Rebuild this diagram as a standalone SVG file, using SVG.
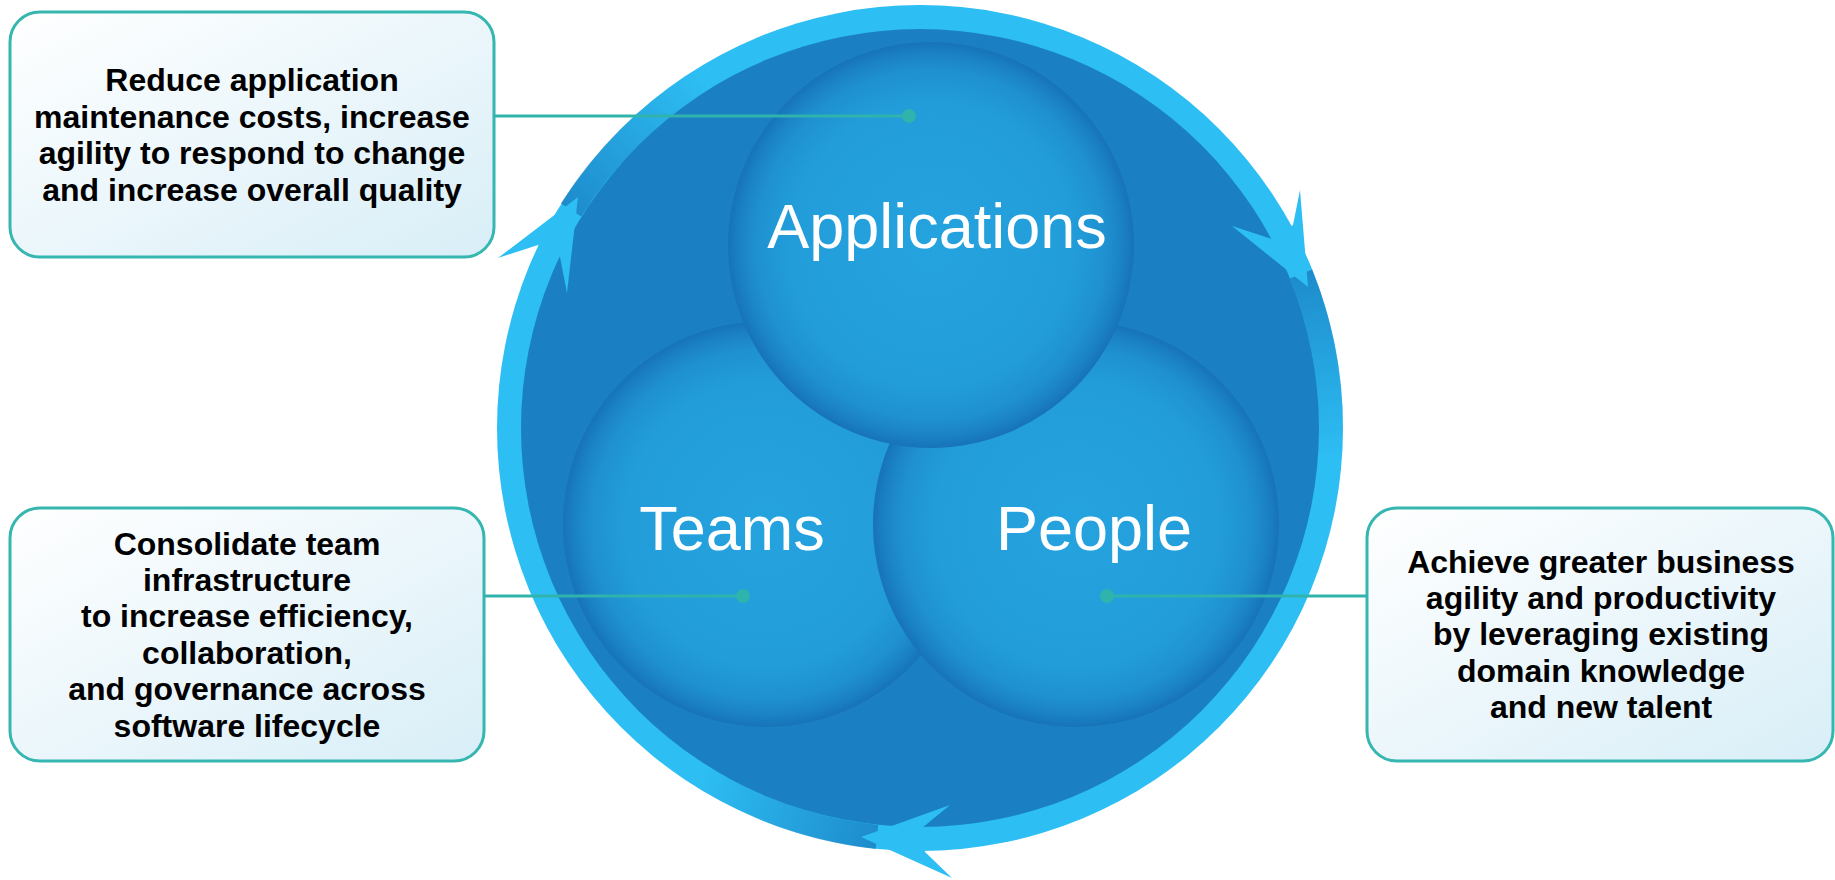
<svg xmlns="http://www.w3.org/2000/svg" width="1835" height="880" viewBox="0 0 1835 880">
<defs>
<linearGradient id="boxFill" x1="0" y1="0" x2="1" y2="1">
<stop offset="0" stop-color="#FFFFFF"/>
<stop offset="1" stop-color="#D8EEF7"/>
</linearGradient>
<radialGradient id="ball" cx="50%" cy="50%" r="50%">
<stop offset="0" stop-color="#25A3DF"/>
<stop offset="0.7" stop-color="#229DDA"/>
<stop offset="0.86" stop-color="#1F91D0"/>
<stop offset="0.95" stop-color="#1A80C4"/>
<stop offset="1" stop-color="#1773B8"/>
</radialGradient>
<linearGradient id="tailUL" gradientUnits="userSpaceOnUse" x1="571" y1="210" x2="702" y2="80">
<stop offset="0" stop-color="#1A7FC2" stop-opacity="0.8"/>
<stop offset="1" stop-color="#1A7FC2" stop-opacity="0"/>
</linearGradient>
<linearGradient id="tailUR" gradientUnits="userSpaceOnUse" x1="1301" y1="274" x2="1330" y2="457">
<stop offset="0" stop-color="#1A7FC2" stop-opacity="0.8"/>
<stop offset="1" stop-color="#1A7FC2" stop-opacity="0"/>
</linearGradient>
<linearGradient id="tailB" gradientUnits="userSpaceOnUse" x1="877" y1="837" x2="702" y2="776">
<stop offset="0" stop-color="#1A7FC2" stop-opacity="0.8"/>
<stop offset="1" stop-color="#1A7FC2" stop-opacity="0"/>
</linearGradient>
</defs>
<style>
.box{fill:url(#boxFill);stroke:#35B6B1;stroke-width:3}
.btxt{font-family:"Liberation Sans",Arial,sans-serif;font-weight:bold;font-size:32px;fill:#000;text-anchor:middle}
.ctxt{font-family:"Liberation Sans",Arial,sans-serif;font-size:63px;fill:#FFFFFF;text-anchor:middle}
.ball{fill:url(#ball)}
.band{fill:#2DBEF3}
.disc{fill:#1A80C3}
.head{fill:#2DBEF3}
.conn{stroke:#2FB3AC;stroke-width:3;fill:none}
.dot{fill:#2FB3AC}
</style>

<g id="cycle">
<circle class="band" cx="920" cy="428" r="423"/>
<path d="M571,210 A411,411 0 0 1 702,80" fill="none" stroke="url(#tailUL)" stroke-width="24"/>
<path d="M1301,274 A411,411 0 0 1 1330,457" fill="none" stroke="url(#tailUR)" stroke-width="24"/>
<path d="M877,837 A411,411 0 0 1 702,776" fill="none" stroke="url(#tailB)" stroke-width="24"/>
<circle class="disc" cx="920" cy="428" r="399"/>
<polygon class="head" points="498,258 578,197 567,293 560,257 538,245"/>
<polygon class="head" points="1300,190 1308,287 1232,226 1272,239 1293,225"/>
<polygon class="head" points="952,878 861,837 950,805 922,828 925,852"/>
</g>

<g id="teams">
<circle class="ball" cx="766" cy="524" r="203"/>
<text class="ctxt" x="732" y="550">Teams</text>
</g>
<g id="people">
<circle class="ball" cx="1076" cy="524" r="203"/>
<text class="ctxt" x="1094" y="550">People</text>
</g>
<g id="applications">
<circle class="ball" cx="931" cy="245" r="203"/>
<text class="ctxt" x="937" y="248">Applications</text>
</g>

<g id="box-applications">
<rect class="box" x="10" y="12" width="484" height="245" rx="30" ry="30"/>
<text class="btxt" x="252" y="91">Reduce application</text>
<text class="btxt" x="252" y="127.5">maintenance costs, increase</text>
<text class="btxt" x="252" y="164">agility to respond to change</text>
<text class="btxt" x="252" y="200.5">and increase overall quality</text>
</g>

<g id="box-teams">
<rect class="box" x="10" y="508" width="474" height="253" rx="30" ry="30"/>
<text class="btxt" x="247" y="555">Consolidate team</text>
<text class="btxt" x="247" y="591">infrastructure</text>
<text class="btxt" x="247" y="627">to increase efficiency,</text>
<text class="btxt" x="247" y="663.5">collaboration,</text>
<text class="btxt" x="247" y="700">and governance across</text>
<text class="btxt" x="247" y="736.5">software lifecycle</text>
</g>

<g id="box-people">
<rect class="box" x="1367" y="508" width="466" height="253" rx="30" ry="30"/>
<text class="btxt" x="1601" y="573">Achieve greater business</text>
<text class="btxt" x="1601" y="608.5">agility and productivity</text>
<text class="btxt" x="1601" y="645">by leveraging existing</text>
<text class="btxt" x="1601" y="682">domain knowledge</text>
<text class="btxt" x="1601" y="718">and new talent</text>
</g>

<g id="connectors">
<line class="conn" x1="494" y1="116" x2="909" y2="116"/>
<circle class="dot" cx="909" cy="116" r="7"/>
<line class="conn" x1="484" y1="596" x2="743" y2="596"/>
<circle class="dot" cx="743" cy="596" r="7"/>
<line class="conn" x1="1107" y1="596" x2="1367" y2="596"/>
<circle class="dot" cx="1107" cy="596" r="7"/>
</g>
</svg>
